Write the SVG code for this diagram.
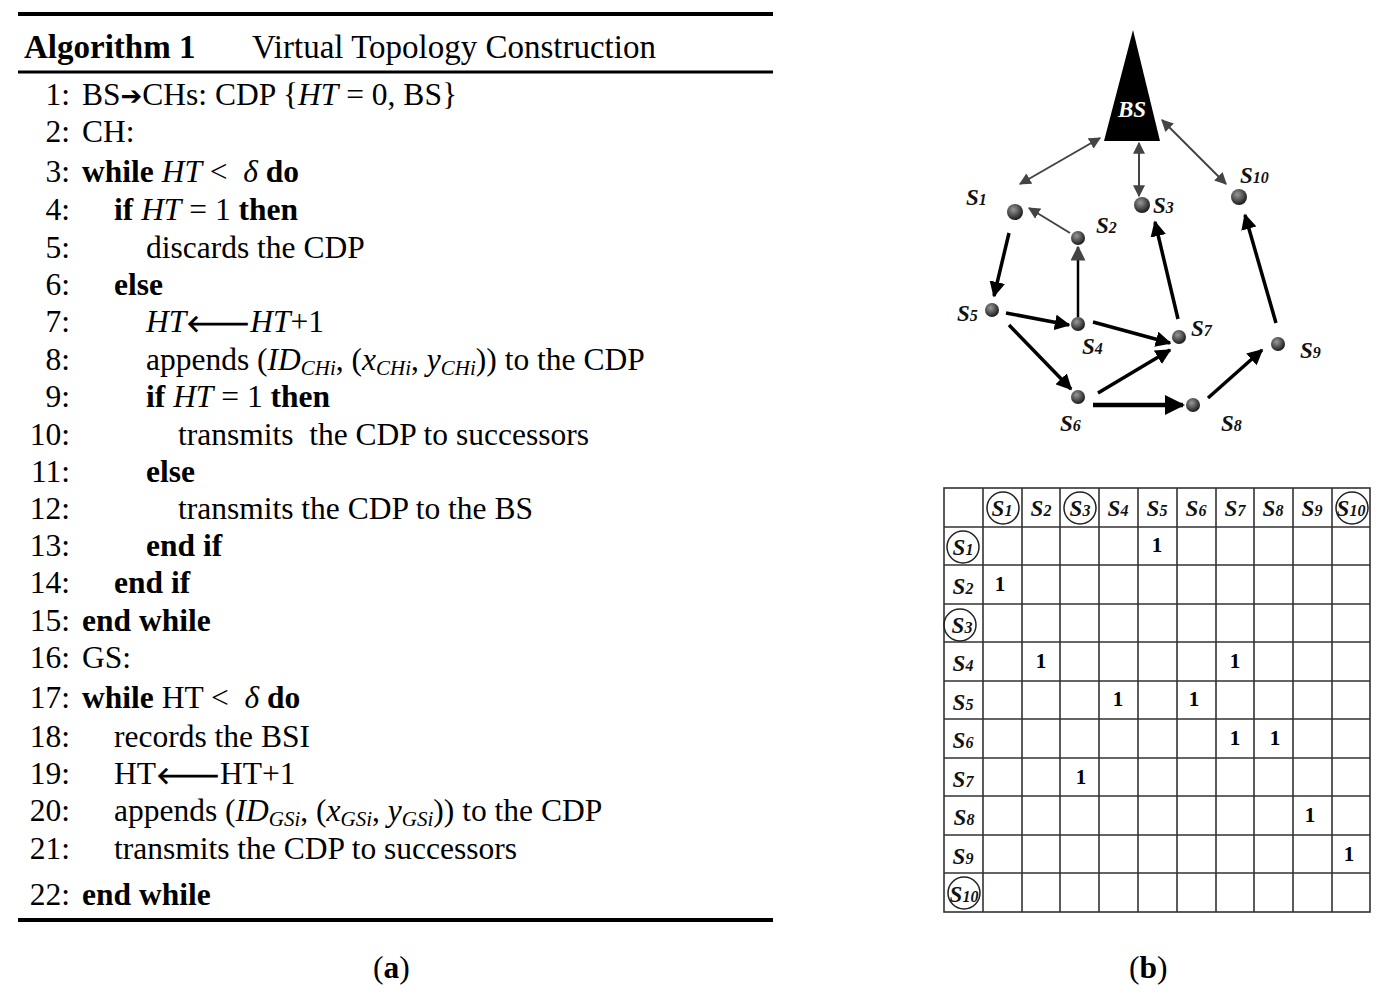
<svg xmlns="http://www.w3.org/2000/svg" width="1381" height="1000" viewBox="0 0 1381 1000">
<style>
.t{font-family:"Liberation Serif",serif;font-size:31.5px;fill:#000}
.n{text-anchor:end}
.b{font-weight:bold}
.i{font-style:italic}
.s{font-size:21px}
.d{font-size:16px}
.lab{font-family:"Liberation Serif",serif;font-size:23px;font-style:italic;font-weight:bold;fill:#111}
.cl{font-family:"Liberation Serif",serif;font-size:23px;font-style:italic;font-weight:bold;fill:#111;text-anchor:middle}
.one{font-family:"Liberation Serif",serif;font-size:21px;font-weight:bold;fill:#000;text-anchor:middle}
.thin{stroke:#444;stroke-width:2;fill:none}
.thick{stroke:#000;stroke-width:3.5;fill:none}
.grid{stroke:#333;stroke-width:1.6;fill:none}
.circ{stroke:#222;stroke-width:1.5;fill:none}
</style>
<defs>
<marker id="ah" viewBox="0 0 10 10" refX="9" refY="5" markerWidth="4.5" markerHeight="4.5" orient="auto-start-reverse"><path d="M0,0L10,5L0,10z" fill="#000"/></marker>
<marker id="ag" viewBox="0 0 10 10" refX="9" refY="5" markerWidth="6" markerHeight="6" orient="auto-start-reverse"><path d="M0,0L10,5L0,10z" fill="#444"/></marker>
<radialGradient id="ball" cx="0.4" cy="0.35" r="0.7"><stop offset="0" stop-color="#999"/><stop offset="1" stop-color="#111"/></radialGradient>
</defs>
<rect width="1381" height="1000" fill="#fff"/>
<g id="algorithm">
<line x1="18" y1="14" x2="773" y2="14" stroke="#000" stroke-width="4"/>
<line x1="18" y1="72" x2="773" y2="72" stroke="#000" stroke-width="3"/>
<line x1="18" y1="920" x2="773" y2="920" stroke="#000" stroke-width="4"/>
<text class="t" x="24" y="58" style="font-size:33px"><tspan class="b">Algorithm 1</tspan><tspan x="252">Virtual Topology Construction</tspan></text>
<text class="t n" x="70" y="105">1:</text><text class="t" x="82" y="105">BS<tspan class="b" font-family="DejaVu Sans" font-size="26">➔</tspan>CHs: CDP {<tspan class="i">HT</tspan> = 0, BS}</text>
<text class="t n" x="70" y="142">2:</text><text class="t" x="82" y="142">CH:</text>
<text class="t n" x="70" y="182">3:</text><text class="t" x="82" y="182" xml:space="preserve"><tspan class="b">while</tspan> <tspan class="i">HT</tspan> &lt;  <tspan class="i">δ</tspan> <tspan class="b">do</tspan></text>
<text class="t n" x="70" y="220">4:</text><text class="t" x="114" y="220"><tspan class="b">if</tspan> <tspan class="i">HT</tspan> = 1 <tspan class="b">then</tspan></text>
<text class="t n" x="70" y="258">5:</text><text class="t" x="146" y="258">discards the CDP</text>
<text class="t n" x="70" y="295">6:</text><text class="t b" x="114" y="295">else</text>
<text class="t n" x="70" y="332">7:</text><text class="t" x="146" y="332"><tspan class="i">HT</tspan><tspan class="b" font-family="DejaVu Sans" font-size="24">🡐</tspan><tspan class="i">HT</tspan>+1</text>
<text class="t n" x="70" y="370">8:</text><text class="t" x="146" y="370">appends (<tspan class="i">ID<tspan class="s" dy="5">CHi</tspan></tspan><tspan dy="-5">, (</tspan><tspan class="i">x<tspan class="s" dy="5">CHi</tspan></tspan><tspan dy="-5">, </tspan><tspan class="i">y<tspan class="s" dy="5">CHi</tspan></tspan><tspan dy="-5">)) to the CDP</tspan></text>
<text class="t n" x="70" y="407">9:</text><text class="t" x="146" y="407"><tspan class="b">if</tspan> <tspan class="i">HT</tspan> = 1 <tspan class="b">then</tspan></text>
<text class="t n" x="70" y="445">10:</text><text class="t" x="178" y="445" xml:space="preserve">transmits  the CDP to successors</text>
<text class="t n" x="70" y="482">11:</text><text class="t b" x="146" y="482">else</text>
<text class="t n" x="70" y="519">12:</text><text class="t" x="178" y="519">transmits the CDP to the BS</text>
<text class="t n" x="70" y="556">13:</text><text class="t b" x="146" y="556">end if</text>
<text class="t n" x="70" y="593">14:</text><text class="t b" x="114" y="593">end if</text>
<text class="t n" x="70" y="631">15:</text><text class="t b" x="82" y="631">end while</text>
<text class="t n" x="70" y="668">16:</text><text class="t" x="82" y="668">GS:</text>
<text class="t n" x="70" y="708">17:</text><text class="t" x="82" y="708" xml:space="preserve"><tspan class="b">while</tspan> HT &lt;  <tspan class="i">δ</tspan> <tspan class="b">do</tspan></text>
<text class="t n" x="70" y="747">18:</text><text class="t" x="114" y="747">records the BSI</text>
<text class="t n" x="70" y="784">19:</text><text class="t" x="114" y="784">HT<tspan class="b" font-family="DejaVu Sans" font-size="24">🡐</tspan>HT+1</text>
<text class="t n" x="70" y="821">20:</text><text class="t" x="114" y="821">appends (<tspan class="i">ID<tspan class="s" dy="5">GSi</tspan></tspan><tspan dy="-5">, (</tspan><tspan class="i">x<tspan class="s" dy="5">GSi</tspan></tspan><tspan dy="-5">, </tspan><tspan class="i">y<tspan class="s" dy="5">GSi</tspan></tspan><tspan dy="-5">)) to the CDP</tspan></text>
<text class="t n" x="70" y="859">21:</text><text class="t" x="114" y="859">transmits the CDP to successors</text>
<text class="t n" x="70" y="905">22:</text><text class="t b" x="82" y="905">end while</text>
<text class="t" x="373" y="978">(<tspan class="b">a</tspan>)</text>
<text class="t" x="1129" y="978">(<tspan class="b">b</tspan>)</text>
</g>
<g id="connectors">
<line class="thin" x1="1100" y1="138" x2="1020" y2="184" marker-start="url(#ag)" marker-end="url(#ag)"/>
<line class="thin" x1="1139" y1="143" x2="1139" y2="196" marker-start="url(#ag)" marker-end="url(#ag)"/>
<line class="thin" x1="1162" y1="120" x2="1226" y2="184" marker-start="url(#ag)" marker-end="url(#ag)"/>
<line class="thin" x1="1070" y1="233" x2="1029" y2="208" stroke="#000" marker-end="url(#ag)"/>
<line class="thick" x1="1009" y1="233" x2="994" y2="296" marker-end="url(#ah)"/>
<line class="thin" style="stroke:#000;stroke-width:2.5" x1="1078" y1="317" x2="1078" y2="247" marker-end="url(#ag)"/>
<line class="thick" x1="1006" y1="313" x2="1069" y2="325" marker-end="url(#ah)"/>
<line class="thick" x1="1009" y1="325" x2="1071" y2="389" marker-end="url(#ah)"/>
<line class="thick" x1="1093" y1="322" x2="1170" y2="343" marker-end="url(#ah)"/>
<line class="thick" x1="1098" y1="393" x2="1170" y2="350" marker-end="url(#ah)"/>
<line class="thick" style="stroke-width:4.5" x1="1093" y1="405" x2="1183" y2="405" marker-end="url(#ah)"/>
<line class="thick" x1="1208" y1="398" x2="1262" y2="350" marker-end="url(#ah)"/>
<line class="thick" x1="1178" y1="319" x2="1155" y2="222" marker-end="url(#ah)"/>
<line class="thick" x1="1276" y1="323" x2="1245" y2="215" marker-end="url(#ah)"/>
</g>
<g id="BS"><path d="M1133,30L1104,141L1160,141z" fill="#000"/><text class="cl" x="1132" y="117" style="fill:#fff">BS</text></g>
<g id="S1"><circle cx="1015" cy="212" r="8" fill="url(#ball)"/><text class="lab" x="966" y="205">S<tspan class="d">1</tspan></text></g>
<g id="S2"><circle cx="1078" cy="238" r="7" fill="url(#ball)"/><text class="lab" x="1096" y="233">S<tspan class="d">2</tspan></text></g>
<g id="S3"><circle cx="1142" cy="205" r="8" fill="url(#ball)"/><text class="lab" x="1153" y="213">S<tspan class="d">3</tspan></text></g>
<g id="S4"><circle cx="1078" cy="324" r="7" fill="url(#ball)"/><text class="lab" x="1082" y="354">S<tspan class="d">4</tspan></text></g>
<g id="S5"><circle cx="992" cy="310" r="7" fill="url(#ball)"/><text class="lab" x="957" y="321">S<tspan class="d">5</tspan></text></g>
<g id="S6"><circle cx="1078" cy="397" r="7" fill="url(#ball)"/><text class="lab" x="1060" y="431">S<tspan class="d">6</tspan></text></g>
<g id="S7"><circle cx="1179" cy="337" r="7" fill="url(#ball)"/><text class="lab" x="1191" y="336">S<tspan class="d">7</tspan></text></g>
<g id="S8"><circle cx="1193" cy="405" r="7" fill="url(#ball)"/><text class="lab" x="1221" y="431">S<tspan class="d">8</tspan></text></g>
<g id="S9"><circle cx="1278" cy="344" r="7" fill="url(#ball)"/><text class="lab" x="1300" y="358">S<tspan class="d">9</tspan></text></g>
<g id="S10"><circle cx="1239" cy="197" r="8" fill="url(#ball)"/><text class="lab" x="1240" y="183">S<tspan class="d">10</tspan></text></g>
<g id="matrix">
<rect class="grid" x="944" y="488" width="426" height="424"/>
<path class="grid" d="M983,488V912M1022,488V912M1060,488V912M1099,488V912M1138,488V912M1177,488V912M1216,488V912M1254,488V912M1293,488V912M1332,488V912M944,527H1370M944,565H1370M944,604H1370M944,642H1370M944,681H1370M944,719H1370M944,758H1370M944,796H1370M944,835H1370M944,873H1370"/>
<text class="cl" x="1002" y="516">S<tspan class="d">1</tspan></text><text class="cl" x="1041" y="516">S<tspan class="d">2</tspan></text><text class="cl" x="1080" y="516">S<tspan class="d">3</tspan></text><text class="cl" x="1118" y="516">S<tspan class="d">4</tspan></text><text class="cl" x="1157" y="516">S<tspan class="d">5</tspan></text><text class="cl" x="1196" y="516">S<tspan class="d">6</tspan></text><text class="cl" x="1235" y="516">S<tspan class="d">7</tspan></text><text class="cl" x="1273" y="516">S<tspan class="d">8</tspan></text><text class="cl" x="1312" y="516">S<tspan class="d">9</tspan></text><text class="cl" x="1351" y="516">S<tspan class="d">10</tspan></text>
<text class="cl" x="963" y="555">S<tspan class="d">1</tspan></text><text class="cl" x="963" y="594">S<tspan class="d">2</tspan></text><text class="cl" x="962" y="633">S<tspan class="d">3</tspan></text><text class="cl" x="963" y="671">S<tspan class="d">4</tspan></text><text class="cl" x="963" y="710">S<tspan class="d">5</tspan></text><text class="cl" x="963" y="748">S<tspan class="d">6</tspan></text><text class="cl" x="963" y="787">S<tspan class="d">7</tspan></text><text class="cl" x="964" y="825">S<tspan class="d">8</tspan></text><text class="cl" x="963" y="864">S<tspan class="d">9</tspan></text><text class="cl" x="964" y="902">S<tspan class="d">10</tspan></text>
<circle class="circ" cx="1003" cy="508" r="16"/><circle class="circ" cx="1080" cy="508" r="16"/><circle class="circ" cx="1352" cy="508" r="16"/>
<circle class="circ" cx="963" cy="547" r="16"/><circle class="circ" cx="960" cy="625" r="16"/><circle class="circ" cx="964" cy="893" r="16"/>
<text class="one" x="1157" y="552">1</text>
<text class="one" x="1000" y="591">1</text>
<text class="one" x="1041" y="668">1</text><text class="one" x="1235" y="668">1</text>
<text class="one" x="1118" y="706">1</text><text class="one" x="1194" y="706">1</text>
<text class="one" x="1235" y="745">1</text><text class="one" x="1275" y="745">1</text>
<text class="one" x="1081" y="784">1</text>
<text class="one" x="1310" y="822">1</text>
<text class="one" x="1349" y="861">1</text>
</g>
</svg>
